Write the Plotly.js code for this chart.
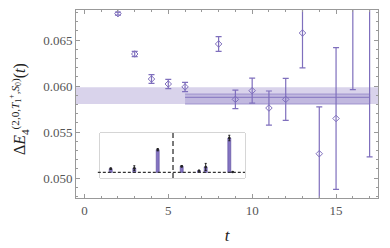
<!DOCTYPE html>
<html><head><meta charset="utf-8">
<script src="https://cdn.plot.ly/plotly-3.0.1.min.js"></script>
<style>html,body{margin:0;padding:0;background:#fff}#chart{width:390px;height:248px}</style>
</head><body><div id="chart"></div>
<script>
// Main series: effective energy difference vs t
const tVals = [2, 3, 4, 5, 6, 8, 9, 10, 11, 12, 13, 14, 15, 16, 17];
const dE = [0.06786, 0.06348, 0.06076, 0.06022, 0.0599, 0.06457, 0.05855, 0.05949, 0.05761, 0.05855, 0.06576, 0.05264, 0.05647, 0.0705, 0.0690];
const dEerr = [0.00016, 0.00028, 0.00047, 0.0005, 0.0005, 0.0008, 0.001, 0.00136, 0.00185, 0.00228, 0.0038, 0.0051, 0.0077, 0.0109, 0.0167];
// Bands: [tStart, tEnd, low, high]
const bandWide = [-0.5, 17.5, 0.05804, 0.05986];
const bandFit = [6, 17, 0.05804, 0.05913];
const fitCentral = 0.05877;
// Inset: overlap bars
const insetX = [1.07, 3.43, 5.77, 8.17, 9.9, 10.57, 12.93, 13.27];
const insetY = [0.096, 0.11, 0.577, 0.157, 0.045, 0.14, 0.873, 0.01];
const insetErr = [0.02, 0.06, 0.03, 0.02, 0.01, 0.09, 0.07, 0.01];
const insetDotted = [2.9, 4.9, 5.6, 10.0, 12.0, 12.7];
const insetDashed = [7.3];

const purple = '#7f6fbd';
const traces = [
  {x:[bandWide[0],bandWide[1],bandWide[1],bandWide[0]], y:[bandWide[2],bandWide[2],bandWide[3],bandWide[3]],
   fill:'toself', fillcolor:'rgba(170,158,210,0.45)', line:{width:0}, mode:'lines', hoverinfo:'skip', showlegend:false},
  {x:[bandFit[0],bandFit[1],bandFit[1],bandFit[0]], y:[bandFit[2],bandFit[2],bandFit[3],bandFit[3]],
   fill:'toself', fillcolor:'rgba(150,135,200,0.35)', line:{width:1, color:'rgba(140,125,195,0.7)'}, mode:'lines', hoverinfo:'skip', showlegend:false},
  {x:[bandFit[0],bandFit[1]], y:[fitCentral, fitCentral], mode:'lines', line:{width:1.2, color:'rgba(130,115,190,0.8)'}, showlegend:false},
  {x:tVals, y:dE, mode:'markers', type:'scatter', showlegend:false,
   marker:{symbol:'diamond-open', size:5, color:purple, line:{width:1, color:purple}},
   error_y:{type:'data', array:dEerr, visible:true, color:purple, thickness:1.2, width:3}},
  {x:insetX, y:insetY, type:'bar', xaxis:'x2', yaxis:'y2', width:0.3, showlegend:false,
   marker:{color:'#8474c2', line:{color:'#5a4a9a', width:0.6}}},
  {x:insetX, y:insetY, mode:'markers', type:'scatter', xaxis:'x2', yaxis:'y2', showlegend:false,
   marker:{size:2.5, color:'#222'},
   error_y:{type:'data', array:insetErr, visible:true, color:'#222', thickness:1, width:1}}
];

const shapes = [
  {type:'rect', xref:'x2 domain', yref:'y2 domain', x0:0, x1:1, y0:0, y1:1, layer:'below',
   fillcolor:'#f4f4f4', line:{color:'#aaaaaa', width:1}},
  {type:'line', xref:'x2 domain', yref:'y2', x0:-0.015, x1:1, y0:0, y1:0, line:{color:'#333', width:1.2, dash:'3px,2px'}}
];
insetDotted.forEach(v => shapes.push({type:'line', xref:'x2', yref:'y2 domain', x0:v, x1:v, y0:0, y1:1, layer:'below', line:{color:'#999', width:1, dash:'dot'}}));
insetDashed.forEach(v => shapes.push({type:'line', xref:'x2', yref:'y2 domain', x0:v, x1:v, y0:0, y1:1, line:{color:'#222', width:1.2, dash:'5px,3px'}}));

const tickFont = {family:'Liberation Serif, serif', size:13, color:'#555'};
const layout = {
  width:390, height:248, margin:{l:76, r:12, t:10, b:50},
  paper_bgcolor:'#fff', plot_bgcolor:'#fff', showlegend:false,
  font:{family:'Liberation Serif, serif'},
  xaxis:{range:[-0.5,17.5], dtick:5, tick0:0, ticks:'inside', ticklen:4, tickcolor:'#999', showline:true, linecolor:'#999', linewidth:1,
    mirror:'ticks', showgrid:false, zeroline:false, tickfont:tickFont,
    minor:{dtick:1, ticks:'inside', ticklen:2, tickcolor:'#999'},
    title:{text:'<i>t</i>', font:{family:'Liberation Serif, serif', size:17, color:'#222'}, standoff:12}},
  yaxis:{range:[0.04783,0.06826], dtick:0.005, tick0:0.05, ticks:'inside', ticklen:4, tickcolor:'#999', showline:true, linecolor:'#999', linewidth:1,
    mirror:'ticks', showgrid:false, zeroline:false, tickfont:tickFont, tickformat:'.3f',
    minor:{dtick:0.001, ticks:'inside', ticklen:2, tickcolor:'#999'}},
  xaxis2:{domain:[0.0795,0.5596], range:[0,14.5], visible:false, anchor:'y2'},
  yaxis2:{domain:[0.1064,0.3457], range:[-0.14,1], visible:false, anchor:'x2'},
  shapes:shapes,
  annotations:[{xref:'paper', yref:'paper', x:-0.1887, y:0.473, xanchor:'center', yanchor:'middle', textangle:-90, showarrow:false,
    text:'Δ<i>E</i><sub>4</sub><sup>(2,0,<i>T</i><sub>1</sub><sup>+</sup>,<i>S</i><sub>0</sub>)</sup>(<i>t</i>)',
    font:{family:'Liberation Serif, serif', size:16, color:'#222'}}]
};
Plotly.newPlot('chart', traces, layout, {displayModeBar:false, staticPlot:true});
</script></body></html>
